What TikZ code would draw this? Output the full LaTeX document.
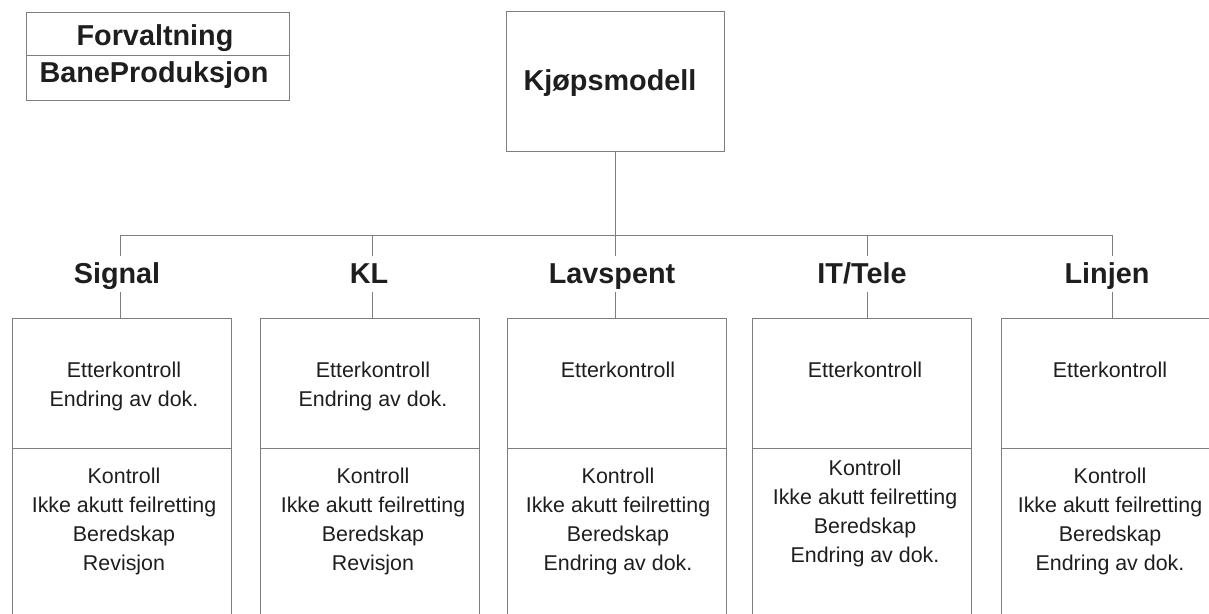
\documentclass[tikz,border=0pt]{standalone}
\usepackage{fontspec}
\setmainfont{Liberation Sans}
\definecolor{ink}{HTML}{1E1E1E}
\definecolor{rulegray}{HTML}{7E7E7E}
\begin{document}
\begin{tikzpicture}[x=1pt,y=-1pt,
  rule/.style={draw=rulegray, line width=0.9pt},
  cell/.style={rule, rectangle, inner sep=0pt, anchor=north west},
  head/.style={font=\fontsize{28.8}{34}\selectfont\bfseries, text=ink, inner sep=0pt, anchor=base},
  lab/.style={head, text height=27pt, text depth=9pt},
  item/.style={font=\fontsize{21.4}{28.9}\selectfont, text=ink, inner sep=0pt, align=center, anchor=north}]

\useasboundingbox (0,0) rectangle (1209,613);
\clip (0,0) rectangle (1209,613);

% organisation header
\node[cell, minimum width=263pt, minimum height=43pt] (fvbox) at (26,12) {};
\node[cell, minimum width=263pt, minimum height=45pt] (bpbox) at (26,55) {};
\node[head] (fv) at (155,45) {Forvaltning};
\node[head] (bp) at (154,82) {BaneProduksjon};

% root box
\node[cell, minimum width=218pt, minimum height=140pt] (root) at (506,11) {};
\node[head] (roottxt) at (610,90) {Kjøpsmodell};

% distribution bus
\coordinate (busL) at (120,235);
\coordinate (busR) at (1112,235);
\draw[rule] (root.south) -- (root.south |- busL);
\draw[rule] (busL) -- (busR);

% columns: name / box left / stub x / label x / text x / label / upper lines / lower top / lower lines
\foreach \n/\bx/\sx/\lx/\tx/\lbl/\up/\lo/\low in {
  sig/12/120/117/124/Signal/{Etterkontroll\\Endring av dok.}/468/{Kontroll\\Ikke akutt feilretting\\Beredskap\\Revisjon},
  kl/260/372/369/373/KL/{Etterkontroll\\Endring av dok.}/468/{Kontroll\\Ikke akutt feilretting\\Beredskap\\Revisjon},
  lav/507/615/612/618/Lavspent/{Etterkontroll}/468/{Kontroll\\Ikke akutt feilretting\\Beredskap\\Endring av dok.},
  it/752/867/862/865/IT\slash Tele/{Etterkontroll}/460/{Kontroll\\Ikke akutt feilretting\\Beredskap\\Endring av dok.},
  lin/1001/1112/1107/1110/Linjen/{Etterkontroll}/468/{Kontroll\\Ikke akutt feilretting\\Beredskap\\Endring av dok.}}{
  \node[cell, minimum width=219pt, minimum height=130pt] (\n-up) at (\bx,318) {};
  \node[cell, minimum width=219pt, minimum height=200pt] (\n-lo) at (\bx,448) {};
  \coordinate (\n-c) at (\sx,318);
  \node[lab] (\n-lab) at (\lx,283) {\lbl};
  \draw[rule] (\n-c |- busL) -- (\n-c |- \n-lab.north);
  \draw[rule] (\n-c |- \n-lab.south) -- (\n-c);
  \node[item] (\n-uptxt) at (\tx,362) {\up};
  \node[item] (\n-lotxt) at (\tx,\lo) {\low};
}
\end{tikzpicture}
\end{document}
